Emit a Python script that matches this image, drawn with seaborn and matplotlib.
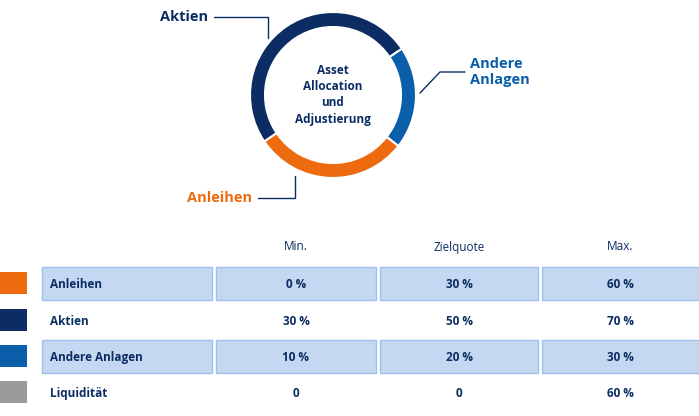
import matplotlib
matplotlib.use('Agg')
import matplotlib.pyplot as plt
import seaborn as sns
from matplotlib.patches import Rectangle

# donut data
segments = ["Andere\nAnlagen", "Anleihen", "Aktien"]
shares = [20, 30, 50]
seg_colors = ["#0a5eaa", "#ee6a0f", "#0b2d63"]

# table data
rows = ["Anleihen", "Aktien", "Andere Anlagen", "Liquidität"]
row_colors = ["#ee6a0f", "#0b2d63", "#0a5eaa", "#9b9b9b"]
columns = ["Min.", "Zielquote", "Max."]
min_vals = ["0 %", "30 %", "10 %", "0"]
target_vals = ["30 %", "50 %", "20 %", "0"]
max_vals = ["60 %", "70 %", "30 %", "60 %"]

sns.set_theme(style="white", font="Open Sans")
navy = "#0b2d63"
W, H = 699, 416
fig = plt.figure(figsize=(W / 100, H / 100), dpi=100)
ax = fig.add_axes([0, 0, 1, 1])
ax.set_xlim(0, W)
ax.set_ylim(H, 0)
ax.axis("off")

# donut: centre (333, 95), outer radius 83 px
cx, cy, r = 333, 95, 83
pax = fig.add_axes([(cx - r) / W, 1 - (cy + r) / H, 2 * r / W, 2 * r / H])
pax.pie(shares, colors=seg_colors, startangle=34, counterclock=False,
        wedgeprops=dict(width=15 / r, edgecolor="white", linewidth=1.5))
pax.set_xlim(-1, 1)
pax.set_ylim(-1, 1)
pax.set_aspect("equal")
pax.text(0, 0, "Asset\nAllocation\nund\nAdjustierung", ha="center", va="center",
         fontsize=8.5, fontweight="bold", color=navy, linespacing=1.3)

# callouts
ax.plot([214, 268, 268], [17, 17, 38], color=navy, lw=1)
ax.text(208, 17, "Aktien", ha="right", va="center", fontsize=10.5,
        fontweight="bold", color=navy)
ax.plot([465, 440, 420], [72, 72, 93], color=navy, lw=1)
ax.text(470, 72, "Andere\nAnlagen", ha="left", va="center", fontsize=10.5,
        fontweight="bold", color="#0a5eaa", linespacing=1.1)
ax.plot([258, 295, 295], [198, 198, 176], color=navy, lw=1)
ax.text(252, 198, "Anleihen", ha="right", va="center", fontsize=10.5,
        fontweight="bold", color="#ee6a0f")

# table
col_x = [(216, 376), (380, 538), (542, 699)]
for (x0, x1), name in zip(col_x, columns):
    ax.text((x0 + x1) / 2, 247, name, ha="center", va="center", fontsize=8.5, color=navy)

row_y = [283, 320, 356, 392]
for i, (y, name, c) in enumerate(zip(row_y, rows, row_colors)):
    ax.add_patch(Rectangle((0, y - 11), 27, 22, color=c, lw=0))
    if i % 2 == 0:
        for x0, x1 in [(42, 212)] + col_x:
            ax.add_patch(Rectangle((x0, y - 16), x1 - x0, 33, facecolor="#c5d8f1",
                                   edgecolor="#9dc0ec", lw=1))
    ax.text(50, y + 1.5, name, ha="left", va="center", fontsize=8.5, fontweight="bold", color=navy)
    for (x0, x1), v in zip(col_x, [min_vals[i], target_vals[i], max_vals[i]]):
        ax.text((x0 + x1) / 2, y + 1.5, v, ha="center", va="center", fontsize=8.5,
                fontweight="bold", color=navy)

fig.savefig("out.png", dpi=100)
